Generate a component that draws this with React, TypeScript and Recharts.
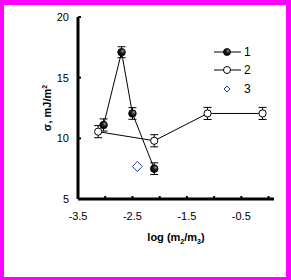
import React from 'react';
import { ComposedChart, Scatter, XAxis, YAxis, ErrorBar, Label } from 'recharts';

const series1X = [-3.03, -2.7, -2.5, -2.1];
const series1Y = [11.1, 17.1, 12.05, 7.5];
const series1Err = [0.5, 0.45, 0.48, 0.48];

const series2X = [-3.13, -2.1, -1.12, -0.11];
const series2Y = [10.55, 9.8, 12.05, 12.05];
const series2Err = [0.5, 0.5, 0.5, 0.5];

const series3X = [-2.41];
const series3Y = [7.68];

const xTicks = [-3.5, -3, -2.5, -2, -1.5, -1, -0.5, 0];
const xTickLabels = ['-3.5', '', '-2.5', '', '-1.5', '', '-0.5', ''];
const yTicks = [5, 10, 15, 20];
const legendLabels = ['1', '2', '3'];

const FONT = '"Liberation Sans", Arial, sans-serif';

const s1 = series1X.map((x, i) => ({ x, y: series1Y[i], err: series1Err[i] }));
const s2 = series2X.map((x, i) => ({ x, y: series2Y[i], err: series2Err[i] }));
const s3 = series3X.map((x, i) => ({ x, y: series3Y[i] }));

const FilledBall = (props: any) => {
  const { cx, cy } = props;
  if (cx == null || cy == null) return null;
  return <circle cx={cx} cy={cy} r={3.8} fill="url(#ballGrad)" stroke="#000" strokeWidth={0.8} />;
};

const OpenCircle = (props: any) => {
  const { cx, cy } = props;
  if (cx == null || cy == null) return null;
  return <circle cx={cx} cy={cy} r={3.6} fill="#fff" stroke="#000" strokeWidth={1} />;
};

const Diamond = (props: any) => {
  const { cx, cy } = props;
  if (cx == null || cy == null) return null;
  const h = 5;
  return (
    <polygon
      points={`${cx},${cy - h} ${cx + h},${cy} ${cx},${cy + h} ${cx - h},${cy}`}
      fill="#fff"
      stroke="#1f3f8f"
      strokeWidth={1}
    />
  );
};

const YTitle = (props: any) => {
  const vb = props.viewBox || {};
  const x = (vb.x || 0) + 51;
  const y = (vb.y || 0) + (vb.height || 0) / 2;
  return (
    <text
      x={x}
      y={y}
      transform={`rotate(-90 ${x} ${y})`}
      textAnchor="middle"
      fontFamily={FONT}
      fontWeight="bold"
      fontSize={11}
      fill="#000"
    >
      σ, mJ/m
      <tspan dy={-4} fontSize={7}>2</tspan>
    </text>
  );
};

const XTitle = (props: any) => {
  const vb = props.viewBox || {};
  const x = (vb.x || 0) + (vb.width || 0) / 2;
  const y = (vb.y || 0) + 42;
  return (
    <text x={x} y={y} textAnchor="middle" fontFamily={FONT} fontWeight="bold" fontSize={11} fill="#000">
      log (m
      <tspan dy={3} fontSize={7}>2</tspan>
      <tspan dy={-3}>/m</tspan>
      <tspan dy={3} fontSize={7}>3</tspan>
      <tspan dy={-3}>)</tspan>
    </text>
  );
};

export default function App() {
  return (
    <div style={{ position: 'absolute', left: 0, top: 0, width: 291, height: 280, background: '#fff' }}>
      <div
        style={{
          position: 'absolute',
          left: 0,
          top: 0,
          width: 291,
          height: 280,
          boxSizing: 'border-box',
          borderStyle: 'solid',
          borderColor: '#ff00ff',
          borderWidth: '5px 5px 3px 4px',
        }}
      />
      <svg width={0} height={0} style={{ position: 'absolute' }}>
        <defs>
          <radialGradient id="ballGrad" cx="0.65" cy="0.35" r="0.6">
            <stop offset="0%" stopColor="#9a9a9a" />
            <stop offset="45%" stopColor="#222" />
            <stop offset="100%" stopColor="#000" />
          </radialGradient>
        </defs>
      </svg>
      <div style={{ position: 'absolute', left: 0, top: 0 }}>
        <ComposedChart width={291} height={280} margin={{ top: 17, right: 17, bottom: 0, left: 0 }}>
          <XAxis
            dataKey="x"
            type="number"
            domain={[-3.5, 0.1]}
            allowDataOverflow
            ticks={xTicks}
            interval={0}
            tickFormatter={(v: number) => {
              const i = xTicks.indexOf(v);
              return i >= 0 ? xTickLabels[i] : '';
            }}
            tickSize={-3}
            tickMargin={16}
            tickLine={{ stroke: '#000', strokeWidth: 2 }}
            axisLine={{ stroke: '#000', strokeWidth: 3 }}
            tick={{ fill: '#000', fontSize: 11, fontFamily: FONT }}
            height={81}
          >
            <Label content={<XTitle />} />
          </XAxis>
          <YAxis
            dataKey="y"
            type="number"
            domain={[5, 20]}
            allowDataOverflow
            ticks={yTicks}
            interval={0}
            tickSize={-3}
            tickMargin={12}
            tickLine={{ stroke: '#000', strokeWidth: 2 }}
            axisLine={{ stroke: '#000', strokeWidth: 3 }}
            tick={{ fill: '#000', fontSize: 11, fontFamily: FONT }}
            width={78}
          >
            <Label content={<YTitle />} />
          </YAxis>
          <Scatter
            data={s2}
            line={{ stroke: '#000', strokeWidth: 1 }}
            lineType="joint"
            shape={<OpenCircle />}
            isAnimationActive={false}
          >
            <ErrorBar dataKey="err" direction="y" width={4} stroke="#000" strokeWidth={1} />
          </Scatter>
          <Scatter
            data={s1}
            line={{ stroke: '#000', strokeWidth: 1 }}
            lineType="joint"
            shape={<FilledBall />}
            isAnimationActive={false}
          >
            <ErrorBar dataKey="err" direction="y" width={4} stroke="#000" strokeWidth={1} />
          </Scatter>
          <Scatter data={s3} shape={<Diamond />} isAnimationActive={false} />
        </ComposedChart>
      </div>
      <svg width={291} height={280} style={{ position: 'absolute', left: 0, top: 0, pointerEvents: 'none' }}>
        <g>
          <line x1={214} x2={241} y1={52} y2={52} stroke="#000" strokeWidth={1} />
          <circle cx={227} cy={52} r={3.5} fill="url(#ballGrad)" stroke="#000" strokeWidth={0.8} />
          <text x={244} y={56} fontFamily={FONT} fontSize={12} fill="#000">{legendLabels[0]}</text>
        </g>
        <g>
          <line x1={214} x2={241} y1={70} y2={70} stroke="#000" strokeWidth={1} />
          <circle cx={227} cy={70} r={3.5} fill="#fff" stroke="#000" strokeWidth={1} />
          <text x={244} y={74} fontFamily={FONT} fontSize={12} fill="#000">{legendLabels[1]}</text>
        </g>
        <g>
          <polygon points="227,86 230,89 227,92 224,89" fill="#fff" stroke="#1f3f8f" strokeWidth={1} />
          <text x={244} y={93} fontFamily={FONT} fontSize={12} fill="#000">{legendLabels[2]}</text>
        </g>
      </svg>
    </div>
  );
}
